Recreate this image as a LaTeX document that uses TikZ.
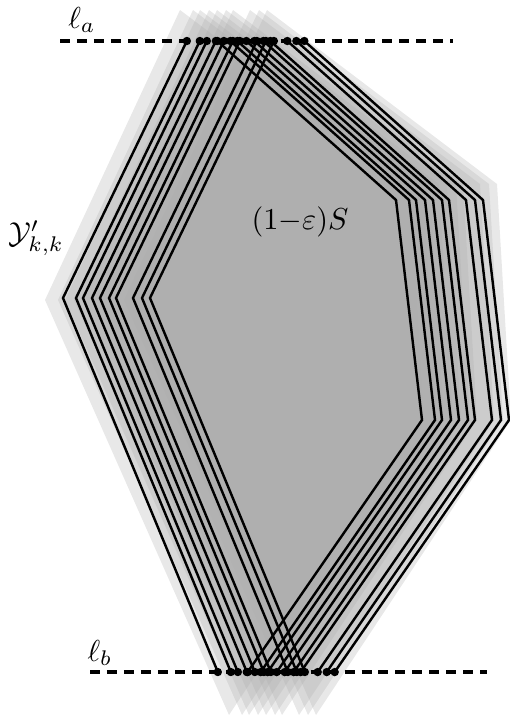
\documentclass[tikz,border=0pt]{standalone}
\usepackage{amsmath,amssymb}
\usepackage{tikz}

\begin{document}
\begin{tikzpicture}[x=0.33pt, y=-0.33pt,
    halo/.style={fill=black!33, fill opacity=0.27},
    rim/.style={draw=black, line width=0.8pt, line join=miter},
    guide/.style={line width=1pt, dash pattern=on 3.3pt off 2.3pt},
    crossdot/.style={fill=black}]
\useasboundingbox (0,0) rectangle (510,722);
\foreach \d in {0,13,20,29,37,46,53,70,79,87}
    \fill[halo] (180+\d,10) -- (45+\d,300) -- (229+\d,715) -- (424+\d,420) -- (410+\d,184) -- cycle;

\coordinate (la-w) at (60,41);
\coordinate (la-e) at (453,41);
\coordinate (lb-w) at (90,672);
\coordinate (lb-e) at (487,672);
\draw[guide] (la-w) -- (la-e);
\draw[guide] (lb-w) -- (lb-e);

\foreach \d in {0,13,20,29,37,46,53,70,79,87} {
    \coordinate (top) at (196+\d,22);
    \coordinate (left) at (63+\d,298);
    \coordinate (bot) at (229+\d,699);
    \coordinate (low) at (422+\d,420);
    \coordinate (up) at (396+\d,200);
    \begin{scope}
        \clip (0,41) rectangle (510,672);
        \draw[rim] (top) -- (left) -- (bot) -- (low) -- (up) -- cycle;
    \end{scope}
    \fill[crossdot] (intersection of top--left and la-w--la-e) circle (4.2);
    \fill[crossdot] (intersection of top--up and la-w--la-e) circle (4.2);
    \fill[crossdot] (intersection of left--bot and lb-w--lb-e) circle (4.2);
    \fill[crossdot] (intersection of low--bot and lb-w--lb-e) circle (4.2);
}

\node (la-text) at (82,20) {$\ell_a$};
\node (lb-text) at (100,653) {$\ell_b$};
\node (y-text) at (36,238) {$\mathcal{Y}'_{k,k}$};
\node (s-text) at (300,222) {$(1{-}\varepsilon)S$};
\end{tikzpicture}
\end{document}
